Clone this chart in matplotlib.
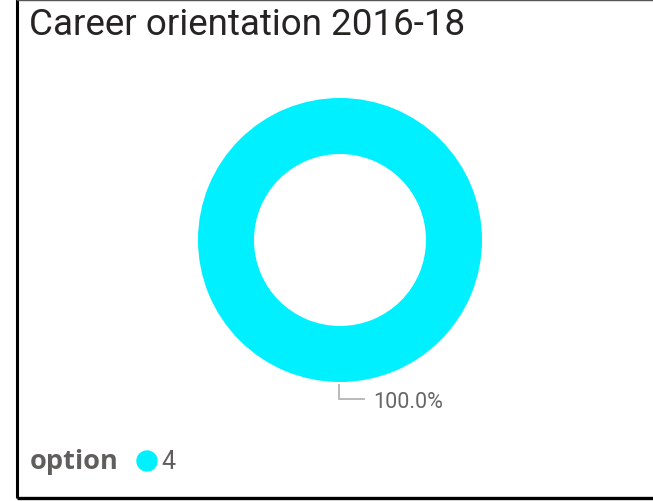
import matplotlib
matplotlib.use("Agg")
import matplotlib.pyplot as plt
from matplotlib.patches import Circle

# data
categories = ["4"]
values = [1]
title = "Career orientation 2016-18"
legend_title = "option"
slice_color = "#00F0FF"

W, H = 653, 502
fig = plt.figure(figsize=(W / 100, H / 100), dpi=100)
ax = fig.add_axes([0, 0, 1, 1])

# donut
cx, cy, r_out, r_in = 340, 241, 142, 86
ax.pie(values, colors=[slice_color], center=(cx, cy), radius=r_out,
       startangle=90, counterclock=False,
       wedgeprops=dict(width=r_out - r_in, edgecolor="none"))
ax.set_xlim(0, W)
ax.set_ylim(H, 0)
ax.set_aspect("equal")
ax.axis("off")

# frame (left, top, bottom)
ax.plot([17, 17], [0, 498.5], color="black", lw=2.2, solid_capstyle="butt")
ax.plot([17, W], [498.5, 498.5], color="black", lw=2.4, solid_capstyle="butt")
ax.plot([17, W], [0.6, 0.6], color="#555555", lw=1.0)

# data label with leader line
pct = values[0] / sum(values) * 100
ax.plot([339, 339, 364], [386, 400, 400], color="#b3b3b3", lw=1.3)
ax.text(373, 403, f"{pct:.1f}%", fontsize=15.5, color="#666666",
        family="Roboto", va="center", ha="left")

# title
ax.text(29, 25, title, fontsize=26.5, color="#252423", family="Roboto",
        va="center", ha="left")

# legend
ax.text(30, 462, legend_title, fontsize=19.5, fontweight="bold", color="#605e5c",
        family="Open Sans", va="center", ha="left")
ax.add_patch(Circle((147, 462), 10, color=slice_color))
ax.text(161, 462, categories[0], fontsize=18, color="#605e5c",
        family="Roboto", va="center", ha="left")

fig.savefig("out.png", dpi=100)
